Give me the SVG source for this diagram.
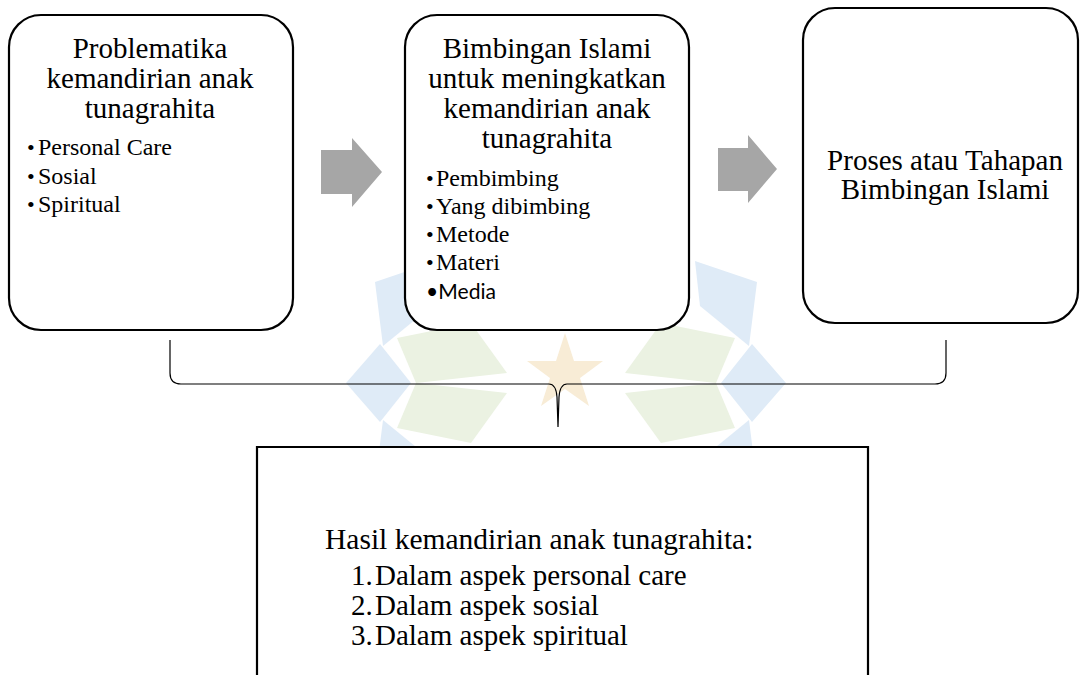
<svg xmlns="http://www.w3.org/2000/svg" width="1081" height="675" viewBox="0 0 1081 675">
<style>
.box{fill:#fff;stroke:#000;stroke-width:2.2}
.t{font-family:"Liberation Serif","Times New Roman",serif;fill:#000}
.h{font-size:29px}
.b{font-size:24px}
.bl{font-size:22px}
.s{font-family:Lato,"Open Sans",sans-serif}
.arr{fill:#a6a6a6}
.wb{fill:#dfebf7}
.wg{fill:#ebf2e2}
.ws{fill:#f8ecd6}
.conn{fill:none;stroke:#000;stroke-width:1.2}
</style>
<rect width="1081" height="675" fill="#fff"/>
<g id="watermark">
<polygon class="wb" points="721,383 752,344 786,383 752,422"/>
<polygon class="wb" points="700,306 695,261 757,282 749,346"/>
<polygon class="wb" points="411,383 380,344 346,383 380,422"/>
<polygon class="wb" points="432,306 437,261 375,282 383,346"/>
<polygon class="wb" points="700,460 695,505 757,484 749,420"/>
<polygon class="wb" points="432,460 437,505 375,484 383,420"/>
<polygon class="wg" points="625,373 716,383 735,338 661,323"/>
<polygon class="wg" points="507,373 416,383 397,338 471,323"/>
<polygon class="wg" points="625,393 716,383 735,428 661,443"/>
<polygon class="wg" points="507,393 416,383 397,428 471,443"/>
<polygon class="ws" points="565,333 574,361 603,361 580,378 589,406 565,389 541,406 550,378 527,361 556,361"/>
</g>
<g id="connectors">
<path class="arr" d="M321,150 H352 V138 L382,172 L352,207 V194 H321 Z"/>
<path class="arr" d="M718,148 H748 V135 L777,169 L748,203 V191 H718 Z"/>
<path class="conn" d="M170,340 V373 Q170,384 181,384 H549 Q556,384 557,397 L558,427 M558,427 L559,397 Q560,384 567,384 H935 Q946,384 946,373 V340"/>
</g>
<g id="node1">
<rect class="box" x="9" y="15" width="284" height="315" rx="32"/>
<g class="t h" text-anchor="middle">
<text x="150" y="58">Problematika</text>
<text x="150" y="88">kemandirian anak</text>
<text x="150" y="118">tunagrahita</text>
</g>
<g class="t b">
<text class="bl" x="27" y="155">•</text><text x="38" y="155">Personal Care</text>
<text class="bl" x="27" y="183.5">•</text><text x="38" y="183.5">Sosial</text>
<text class="bl" x="27" y="212">•</text><text x="38" y="212">Spiritual</text>
</g>
</g>
<g id="node2">
<rect class="box" x="405" y="15" width="284" height="315" rx="32"/>
<g class="t h" text-anchor="middle">
<text x="547" y="58">Bimbingan Islami</text>
<text x="547" y="88">untuk meningkatkan</text>
<text x="547" y="118">kemandirian anak</text>
<text x="547" y="148">tunagrahita</text>
</g>
<g class="t b">
<text class="bl" x="426" y="186">•</text><text x="436" y="186">Pembimbing</text>
<text class="bl" x="426" y="214">•</text><text x="436" y="214">Yang dibimbing</text>
<text class="bl" x="426" y="242">•</text><text x="436" y="242">Metode</text>
<text class="bl" x="426" y="270">•</text><text x="436" y="270">Materi</text>
</g>
<text class="s" x="426" y="299" font-size="22" textLength="70" lengthAdjust="spacingAndGlyphs">•Media</text>
</g>
<g id="node3">
<rect class="box" x="803" y="8" width="275" height="315" rx="32"/>
<g class="t h" text-anchor="middle">
<text x="945" y="170">Proses atau Tahapan</text>
<text x="945" y="199">Bimbingan Islami</text>
</g>
</g>
<g id="node4">
<path class="box" d="M257,680 V447 H868 V680"/>
<g class="t h">
<text x="325" y="549" font-size="29.5">Hasil kemandirian anak tunagrahita:</text>
<text x="351" y="585">1.</text><text x="375" y="585">Dalam aspek personal care</text>
<text x="351" y="615">2.</text><text x="375" y="615">Dalam aspek sosial</text>
<text x="351" y="645">3.</text><text x="375" y="645">Dalam aspek spiritual</text>
</g>
</g>
</svg>
